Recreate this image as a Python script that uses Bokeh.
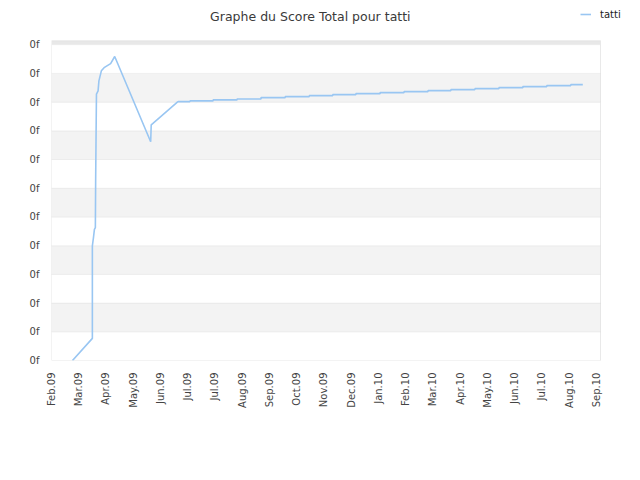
from bokeh.plotting import figure
from bokeh.models import Range1d, FixedTicker, BoxAnnotation, Label, Legend, LegendItem
from bokeh.embed import file_html
from bokeh.resources import INLINE
import math

title_text = "Graphe du Score Total pour tatti"
series_name = "tatti"

x_tick_labels = ["Feb.09", "Mar.09", "Apr.09", "May.09", "Jun.09", "Jul.09", "Jul.09",
                 "Aug.09", "Sep.09", "Oct.09", "Nov.09", "Dec.09", "Jan.10", "Feb.10",
                 "Mar.10", "Apr.10", "May.10", "Jun.10", "Jul.10", "Aug.10", "Sep.10"]
y_tick_values = list(range(12))
y_tick_label = "0f"

# early (irregular) part of the series: x in month-tick units, y in grid units
early_x = [0.77, 1.50, 1.50, 1.54, 1.575, 1.61, 1.62, 1.65, 1.71, 1.74, 1.83, 1.93, 2.17, 2.32, 3.64, 3.66, 4.64]
early_y = [0.00, 0.77, 3.99, 4.28, 4.57, 4.63, 6.20, 9.28, 9.39, 9.74, 10.09, 10.20, 10.34, 10.59, 7.62, 8.21, 9.02]

# later part: step levels
step_x = [4.64, 5.08, 5.93, 6.81, 7.69, 8.58, 9.46, 10.32, 11.17, 12.06, 12.94, 13.82,
          14.66, 15.54, 16.42, 17.30, 18.18, 19.06, 19.50]
step_y = [9.017, 9.042, 9.077, 9.111, 9.157, 9.192, 9.226, 9.261, 9.296, 9.331, 9.366,
          9.401, 9.436, 9.470, 9.505, 9.540, 9.575, 9.610]

xs = list(early_x)
ys = list(early_y)
for i, lvl in enumerate(step_y):
    xs += [step_x[i], step_x[i + 1]]
    ys += [lvl, lvl]

# plot area (in data units) and the wider frame that also holds title and legend
PLOT_X_END = 20.15
PLOT_Y_END = 11.14
FRAME_X_END = 21.03
FRAME_Y_END = 12.54

p = figure(width=624, height=464, output_backend="svg", toolbar_location=None,
           x_range=Range1d(0, FRAME_X_END), y_range=Range1d(0, FRAME_Y_END),
           min_border_left=51, min_border_right=0, min_border_top=0, min_border_bottom=104)
p.background_fill_color = "white"
p.border_fill_color = "white"
p.outline_line_color = None

# bands with grid lines
for i in range(len(y_tick_values) - 1):
    p.add_layout(BoxAnnotation(left=0, right=PLOT_X_END,
                               bottom=y_tick_values[i], top=y_tick_values[i + 1],
                               fill_color="#f3f3f3" if i % 2 == 1 else "#ffffff", fill_alpha=1,
                               line_color="#dadada", line_width=1, level="underlay"))
p.add_layout(BoxAnnotation(left=0, right=PLOT_X_END, bottom=y_tick_values[-1], top=PLOT_Y_END,
                           fill_color="#e8e8e8", fill_alpha=1, line_color=None, level="underlay"))
# plot area border
p.add_layout(BoxAnnotation(left=0, right=PLOT_X_END, bottom=0, top=PLOT_Y_END,
                           fill_alpha=0, line_color="#cccccc", line_width=1, level="underlay"))

r = p.line(xs, ys, line_color="#99c6f2", line_width=1.6)

p.xgrid.visible = False
p.ygrid.visible = False

p.xaxis.ticker = FixedTicker(ticks=list(range(len(x_tick_labels))))
p.xaxis.major_label_overrides = {i: t for i, t in enumerate(x_tick_labels)}
p.xaxis.major_label_orientation = math.pi / 2
p.yaxis.ticker = FixedTicker(ticks=y_tick_values)
p.yaxis.major_label_overrides = {v: y_tick_label for v in y_tick_values}
for ax in (p.xaxis, p.yaxis):
    ax.axis_line_color = None
    ax.major_tick_line_color = None
    ax.minor_tick_line_color = None
    ax.major_tick_out = 0
    ax.major_tick_in = 0
    ax.major_label_text_font = "DejaVu Sans"
    ax.major_label_text_font_size = "10px"
    ax.major_label_text_color = "#444444"
p.xaxis.major_label_standoff = 12
p.yaxis.major_label_standoff = 12

p.add_layout(Label(x=9.5, y=11.97, text=title_text, text_align="center", text_baseline="alphabetic",
                   text_font="DejaVu Sans", text_font_size="12.5px", text_color="#3a3a3a"))

legend = Legend(items=[LegendItem(label=series_name, renderers=[r])], location=(529, 340),
                background_fill_alpha=0, border_line_color=None, padding=0, margin=0,
                glyph_width=11, glyph_height=12, label_standoff=9,
                label_text_font="DejaVu Sans", label_text_font_size="10px", label_text_color="#222222")
p.add_layout(legend, "center")

open("out.html", "w").write(file_html(p, INLINE))
